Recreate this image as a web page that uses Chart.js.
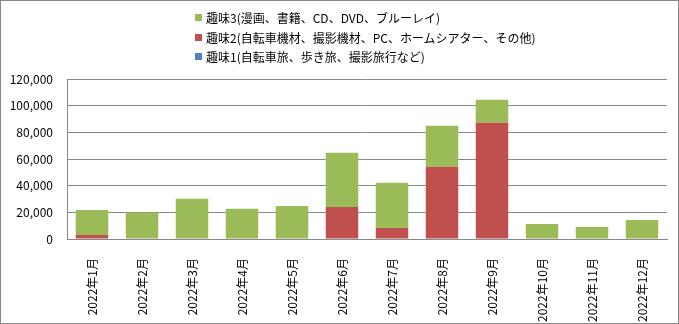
<!DOCTYPE html>
<html>
<head>
<meta charset="utf-8">
<script src="https://cdn.jsdelivr.net/npm/chart.js@4"></script>
<style>
  html, body { margin: 0; padding: 0; background: #fff; }
  #wrap {
    position: relative; width: 679px; height: 324px;
    box-sizing: border-box; border: 1px solid #888; background: #fff;
  }
  #chart { position: absolute; left: 0; top: 0; }
  #legend {
    position: absolute; left: 194px; top: 7px; margin: 0; padding: 0; list-style: none;
    font: 12px "Noto Sans CJK JP", sans-serif; color: #000; line-height: 19.5px;
  }
  #legend li { display: flex; align-items: center; white-space: nowrap; }
  #legend i { display: inline-block; width: 7px; height: 7px; margin-right: 4px; }
</style>
</head>
<body>
<div id="wrap">
  <canvas id="chart" width="677" height="322"></canvas>
  <ul id="legend"></ul>
</div>
<script>
// Dados
const months = ['2022年1月', '2022年2月', '2022年3月', '2022年4月', '2022年5月', '2022年6月',
                '2022年7月', '2022年8月', '2022年9月', '2022年10月', '2022年11月', '2022年12月'];
const hobby1 = [0, 0, 0, 0, 0, 0, 0, 0, 0, 0, 0, 0];
const hobby2 = [3000, 0, 0, 0, 0, 24000, 8300, 54100, 87200, 0, 0, 0];
const hobby3 = [18800, 19800, 30100, 22600, 24800, 40700, 33800, 30900, 17300, 11300, 9000, 14300];
const seriesNames = ['趣味1(自転車旅、歩き旅、撮影旅行など)',
                     '趣味2(自転車機材、撮影機材、PC、ホームシアター、その他)',
                     '趣味3(漫画、書籍、CD、DVD、ブルーレイ)'];
const yTicks = [0, 20000, 40000, 60000, 80000, 100000, 120000];

const FONT = '"Noto Sans CJK JP", sans-serif';
const GRID = '#888888';

const chart = new Chart(document.getElementById('chart'), {
    type: 'bar',
    data: {
        labels: months,
        datasets: [
            { label: seriesNames[0], data: hobby1, backgroundColor: '#4F81BD' },
            { label: seriesNames[1], data: hobby2, backgroundColor: '#C0504D' },
            { label: seriesNames[2], data: hobby3, backgroundColor: '#9BBB59' }
        ]
    },
    options: {
        responsive: false,
        animation: false,
        datasets: { bar: { barPercentage: 0.65, categoryPercentage: 1 } },
        layout: { padding: { top: 78, right: 11, left: 0, bottom: 0 } },
        scales: {
            x: {
                stacked: true,
                grid: { display: false },
                border: { display: true, color: GRID },
                ticks: {
                    minRotation: 90, maxRotation: 90, padding: 11,
                    color: '#000', font: { family: FONT, size: 12 }
                },
                afterFit: s => { s.height = 84; }
            },
            y: {
                stacked: true,
                min: yTicks[0],
                max: yTicks[yTicks.length - 1],
                afterBuildTicks: s => { s.ticks = yTicks.map(v => ({ value: v })); },
                grid: { color: GRID, drawTicks: false },
                border: { display: true, color: GRID },
                ticks: {
                    padding: 14, color: '#000', font: { family: FONT, size: 12 },
                    callback: v => v.toLocaleString('en-US')
                },
                afterFit: s => { s.width = 66; }
            }
        },
        plugins: {
            legend: { display: false },
            tooltip: { enabled: false }
        }
    }
});

// Legenda em HTML (ordem invertida, como no original)
const legend = document.getElementById('legend');
chart.data.datasets.slice().reverse().forEach(ds => {
    const li = document.createElement('li');
    li.innerHTML = `<i style="background:${ds.backgroundColor}"></i><span>${ds.label}</span>`;
    legend.appendChild(li);
});
</script>
</body>
</html>
